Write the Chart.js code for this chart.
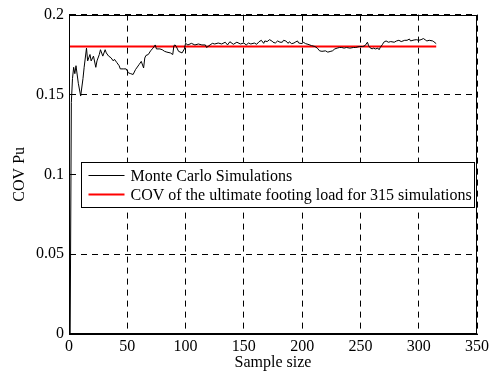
<!DOCTYPE html>
<html>
<head>
<meta charset="utf-8">
<script src="https://cdn.jsdelivr.net/npm/chart.js@4/dist/chart.umd.min.js"></script>
<style>
  html, body { margin: 0; padding: 0; background: #fff; }
  #wrap { width: 494px; height: 374px; }
</style>
</head>
<body>
<div id="wrap"><canvas id="covChart" width="494" height="374"></canvas></div>
<script>
// sample size (x) and running COV of Pu (y)
const sampleSize = [1, 2, 3, 4, 5, 6, 8, 10, 12, 13, 15, 16, 18, 19, 21, 23, 24, 26, 27, 29,
    31, 32, 34, 36, 38, 39, 41, 43, 44, 47, 49, 51, 53, 55, 57, 60, 62, 64, 65, 66,
    68, 70, 72, 74, 75, 78, 80, 82, 84, 87, 89, 90, 91, 92, 94, 97, 99, 100, 102, 105,
    108, 111, 114, 117, 118, 121, 123, 125, 128, 131, 134, 136, 138, 141, 144, 147, 150, 152, 154, 156,
    159, 161, 163, 165, 167, 168, 170, 172, 174, 175, 177, 179, 181, 183, 184, 186, 188, 189, 191, 193,
    194, 196, 197, 200, 201, 203, 205, 208, 211, 213, 215, 217, 220, 222, 224, 226, 228, 230, 232, 234,
    236, 238, 241, 244, 246, 249, 252, 254, 256, 257, 258, 260, 261, 263, 265, 266, 267, 269, 270, 272,
    274, 276, 279, 281, 283, 285, 288, 290, 292, 293, 296, 298, 300, 302, 304, 306, 307, 309, 312, 313,
    314, 315];
const covPu = [0, 0.145, 0.160, 0.167, 0.163, 0.168, 0.157, 0.149, 0.160, 0.167, 0.179, 0.171, 0.175, 0.171, 0.174, 0.167, 0.171, 0.175, 0.178, 0.174,
    0.178, 0.176, 0.174, 0.173, 0.171, 0.172, 0.170, 0.168, 0.166, 0.166, 0.166, 0.1635, 0.163, 0.1625, 0.1655, 0.1686, 0.1707, 0.1666, 0.1728, 0.1744,
    0.175, 0.1773, 0.179, 0.181, 0.1785, 0.1785, 0.178, 0.177, 0.1765, 0.176, 0.175, 0.1806, 0.181, 0.180, 0.177, 0.176, 0.1785, 0.182, 0.181, 0.182,
    0.181, 0.1816, 0.181, 0.181, 0.1794, 0.181, 0.182, 0.1816, 0.1822, 0.1816, 0.1827, 0.181, 0.183, 0.1814, 0.1827, 0.1816, 0.1822, 0.181, 0.1822, 0.1816,
    0.1822, 0.1814, 0.183, 0.1839, 0.182, 0.1835, 0.1831, 0.1843, 0.1835, 0.1827, 0.1822, 0.1835, 0.1827, 0.1827, 0.1839, 0.1835, 0.182, 0.183, 0.1818, 0.1822,
    0.1827, 0.1835, 0.1822, 0.1818, 0.1827, 0.1818, 0.1814, 0.1806, 0.180, 0.179, 0.1773, 0.177, 0.1773, 0.1765, 0.1769, 0.1773, 0.1785, 0.179, 0.1794, 0.1794,
    0.179, 0.1794, 0.179, 0.1794, 0.1794, 0.180, 0.180, 0.1806, 0.1827, 0.1806, 0.1794, 0.1785, 0.179, 0.1785, 0.179, 0.178, 0.1794, 0.1814, 0.1827, 0.1835,
    0.1827, 0.1831, 0.1827, 0.1835, 0.1839, 0.1831, 0.1839, 0.1839, 0.1847, 0.1835, 0.1841, 0.1843, 0.1839, 0.1843, 0.185, 0.184, 0.1835, 0.1839, 0.1835, 0.183,
    0.1824, 0.1818];

// COV of the ultimate footing load over all 315 simulations
const refSpan = [0, 315];
const refCov = 0.18;

const xTicks = [0, 50, 100, 150, 200, 250, 300, 350];
const yTickLabels = ["0", "0.05", "0.1", "0.15", "0.2"];
const legendLabels = ["Monte Carlo Simulations", "COV of the ultimate footing load for 315 simulations"];

const serif = "'Liberation Serif', 'Times New Roman', serif";
Chart.defaults.font.family = serif;
Chart.defaults.font.size = 16;
Chart.defaults.color = "#000";

const mcPoints = sampleSize.map((n, i) => ({ x: n, y: covPu[i] }));
const refPoints = refSpan.map(n => ({ x: n, y: refCov }));

// box round the axes + legend inside the plot
const framePlugin = {
    id: "frame",
    afterDatasetsDraw(chart) {
        const { ctx, chartArea: a } = chart;
        ctx.save();
        ctx.strokeStyle = "#000";
        ctx.lineWidth = 1;
        ctx.strokeRect(Math.round(a.left) + 0.5, Math.round(a.top) + 0.5,
            Math.round(a.right - a.left) - 1, Math.round(a.bottom - a.top) - 1);

        // legend
        const bx = Math.round(a.left) + 12.5, by = Math.round(a.top) + 147.5;
        const bw = 393, bh = 45;
        ctx.fillStyle = "#fff";
        ctx.fillRect(bx, by, bw, bh);
        ctx.strokeRect(bx, by, bw, bh);
        const colors = ["#000", "#ff0000"];
        const widths = [1, 2];
        ctx.font = "16px " + serif;
        ctx.textBaseline = "middle";
        ctx.textAlign = "left";
        legendLabels.forEach((lab, i) => {
            const y = by + 13 + i * 19;
            ctx.beginPath();
            ctx.strokeStyle = colors[i];
            ctx.lineWidth = widths[i];
            ctx.moveTo(bx + 7, y);
            ctx.lineTo(bx + 43, y);
            ctx.stroke();
            ctx.fillStyle = "#000";
            ctx.fillText(lab, bx + 49, y + 1);
        });
        ctx.restore();
    }
};

new Chart(document.getElementById("covChart"), {
    type: "line",
    data: {
        datasets: [
            {
                label: legendLabels[0],
                data: mcPoints,
                borderColor: "#000",
                borderWidth: 1,
                pointRadius: 0,
                tension: 0
            },
            {
                label: legendLabels[1],
                data: refPoints,
                borderColor: "#ff0000",
                borderWidth: 2,
                pointRadius: 0,
                tension: 0
            }
        ]
    },
    options: {
        responsive: false,
        animation: false,
        layout: { padding: { top: 11, right: 17, left: 0, bottom: 0 } },
        plugins: {
            legend: { display: false },
            tooltip: { enabled: false }
        },
        scales: {
            x: {
                type: "linear",
                min: 0,
                max: 350,
                afterBuildTicks: s => { s.ticks = xTicks.map(v => ({ value: v })); },
                ticks: { padding: 3, maxRotation: 0 },
                grid: { color: "#000", lineWidth: 1, drawTicks: false },
                border: { display: true, color: "#000", width: 1, dash: [6, 5] },
                title: { display: true, text: "Sample size", padding: { top: 0, bottom: 2 } },
                afterFit: s => { s.height = 40; }
            },
            y: {
                type: "linear",
                min: 0,
                max: 0.2,
                afterBuildTicks: s => { s.ticks = yTickLabels.map(t => ({ value: parseFloat(t) })); },
                ticks: { padding: 5, callback: (v, i) => yTickLabels[i] },
                grid: { color: "#000", lineWidth: 1, drawTicks: false },
                border: { display: true, color: "#000", width: 1, dash: [6, 5] },
                title: { display: true, text: "COV Pu", padding: { top: 10, bottom: 0 } },
                afterFit: s => { s.width = 69; }
            }
        }
    },
    plugins: [framePlugin]
});
</script>
</body>
</html>
